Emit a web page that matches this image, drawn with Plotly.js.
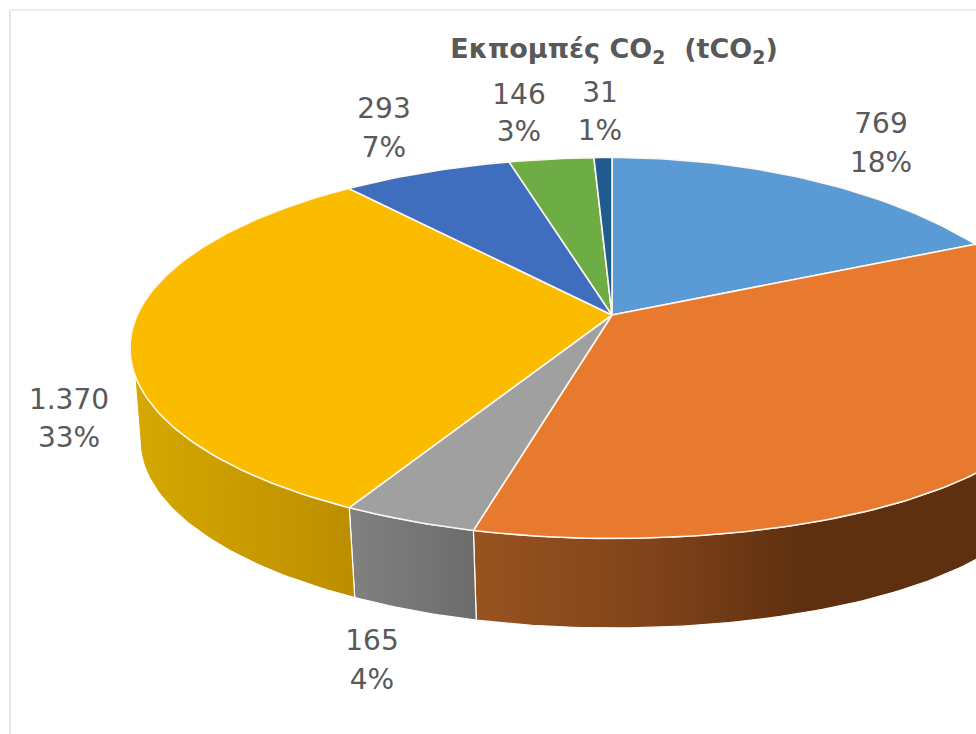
<!DOCTYPE html>
<html>
<head>
<meta charset="utf-8">
<script src="https://cdn.plot.ly/plotly-3.0.1.min.js"></script>
<style>html,body{margin:0;padding:0;background:#fff}#chart{width:976px;height:734px}</style>
</head>
<body>
<div id="chart"></div>
<script>
// ---- data (clockwise from 12 o'clock) ----
const categories = ['A', 'B', 'C', 'D', 'E', 'F', 'G'];
const values = [769, 1420, 165, 1370, 293, 146, 31];
const valueLabels = ['769', '', '165', '1.370', '293', '146', '31'];
const percentLabels = ['18%', '', '4%', '33%', '7%', '3%', '1%'];
const chartTitle = 'Εκπομπές CO<sub>2</sub>  (tCO<sub>2</sub>)';

// ---- styles ----
const topColors = ['#5B9BD5', '#E87A30', '#A0A0A0', '#FBBC00', '#3F6EBF', '#6EAC46', '#1F5A91'];
const wallScales = {
  1: {start: 476, stop: 976, cs: [[0, '#98531F'], [0.35, '#80431A'], [0.65, '#5F3010'], [1, '#5F3010']]},
  2: {start: 355, stop: 476, cs: [[0, '#808080'], [1, '#6C6C6C']]},
  3: {start: 132, stop: 355, cs: [[0, '#D6A800'], [1, '#BC8E00']]}
};
const labelAt = {0: [881, 126, 165], 2: [372, 643, 682], 3: [69, 402, 440], 4: [384, 111, 150], 5: [519, 97, 134], 6: [600, 95, 133]};

// ---- geometry of the tilted, perspective disc, in axis units ----
const apex = [612, 315];
const topRim = {cx: 612, cy: 348, ry: 190.5, rxL: 482, rxR: 455};
const botRim = {cx: 612, cy: 440, ry: 188, rxL: 472, rxR: 446};
const persp = 0.17;
const rad = Math.PI / 180;
// rim-angle calibration of the foreshortening: [perspective angle, drawn angle]
const warp = [[0, 0], [49.5, 53], [90, 90], [180, 185], [191.1, 196.7], [210.7, 213], [330.9, 327], [349.3, 347.8], [360, 360]];

function project(aDeg) {            // true angle -> angle on the foreshortened rim
  if (aDeg >= 360) return 360;
  const a = aDeg * rad, c = Math.cos(a), s = Math.sin(a);
  let d = (Math.atan2(s, c + persp) - Math.atan2(persp * s, 1 + persp * c)) / rad;
  if (d < 0) d += 360;
  for (let i = 1; i < warp.length; i++) {
    if (d <= warp[i][0]) {
      const f = (d - warp[i - 1][0]) / (warp[i][0] - warp[i - 1][0]);
      return warp[i - 1][1] + f * (warp[i][1] - warp[i - 1][1]);
    }
  }
  return d;
}
function rimPoint(R, tDeg) {
  const s = Math.sin(tDeg * rad), c = Math.cos(tDeg * rad);
  const dx = (s > 0 ? R.rxR : R.rxL) * s;
  const bend = dx > 0 ? 11 * (dx / 364) * (dx / 364) : 0;
  return [R.cx + dx, R.cy - R.ry * c + bend];
}
function arc(R, from, to) {
  const n = Math.max(2, Math.ceil(Math.abs(to - from)));
  const pts = [];
  for (let i = 0; i <= n; i++) pts.push(rimPoint(R, from + (to - from) * i / n));
  return pts;
}

// ---- build slices from the values ----
const total = values.reduce((p, v) => p + v, 0);
let cum = 0;
const spans = values.map(v => {
  const a0 = cum / total * 360; cum += v; const a1 = cum / total * 360;
  return [project(a0), a1 >= 360 ? 360 : project(a1)];
});

const traces = [];
const wallFrom = 90, wallTo = 262, wallToBottom = 270;

spans.forEach((sp, i) => {            // side walls
  const lo = Math.max(sp[0], wallFrom), hi = Math.min(sp[1], wallTo);
  if (hi <= lo || !wallScales[i]) return;
  const hiB = hi === wallTo ? wallToBottom : hi;
  const pts = arc(topRim, lo, hi).concat(arc(botRim, hiB, lo));
  pts.push(pts[0]);
  const w = wallScales[i];
  traces.push({
    type: 'scatter', mode: 'lines', x: pts.map(p => p[0]), y: pts.map(p => p[1]),
    fill: 'toself', fillcolor: w.cs[0][1],
    fillgradient: {type: 'horizontal', start: w.start, stop: w.stop, colorscale: w.cs},
    line: {color: '#FFFFFF', width: 1.2}, hoverinfo: 'skip'
  });
});

spans.forEach((sp, i) => {            // top surface
  const pts = [apex].concat(arc(topRim, sp[0], sp[1]));
  pts.push(apex);
  traces.push({
    type: 'scatter', mode: 'lines', name: categories[i],
    x: pts.map(p => p[0]), y: pts.map(p => p[1]),
    fill: 'toself', fillcolor: topColors[i],
    line: {color: '#FFF6EC', width: 1.6}, hoverinfo: 'skip'
  });
});

const idx = Object.keys(labelAt).map(Number);
const labelFont = {family: '"DejaVu Sans", sans-serif', size: 28, color: '#595959'};
traces.push({
  type: 'scatter', mode: 'text', x: idx.map(i => labelAt[i][0]), y: idx.map(i => labelAt[i][1]),
  text: idx.map(i => valueLabels[i]), textposition: 'middle center', textfont: labelFont, hoverinfo: 'skip'
});
traces.push({
  type: 'scatter', mode: 'text', x: idx.map(i => labelAt[i][0]), y: idx.map(i => labelAt[i][2]),
  text: idx.map(i => percentLabels[i]), textposition: 'middle center', textfont: labelFont, hoverinfo: 'skip'
});

const layout = {
  width: 976, height: 734,
  margin: {l: 0, r: 0, t: 0, b: 0},
  paper_bgcolor: '#FFFFFF', plot_bgcolor: '#FFFFFF',
  showlegend: false,
  title: {
    text: chartTitle, x: 614 / 976, xanchor: 'center', y: 1 - 49 / 734, yanchor: 'middle',
    font: {family: '"DejaVu Sans", sans-serif', size: 27, weight: 700, color: '#595959'}
  },
  xaxis: {range: [0, 976], visible: false, fixedrange: true},
  yaxis: {range: [734, 0], visible: false, fixedrange: true},
  shapes: [
    {type: 'line', xref: 'x', yref: 'y', x0: 10, x1: 10, y0: 10, y1: 734, line: {color: '#E6E6E6', width: 2}, layer: 'below'},
    {type: 'line', xref: 'x', yref: 'y', x0: 10, x1: 976, y0: 10, y1: 10, line: {color: '#EDEDED', width: 2}, layer: 'below'}
  ]
};
Plotly.newPlot('chart', traces, layout, {displayModeBar: false, staticPlot: true});
</script>
</body>
</html>
